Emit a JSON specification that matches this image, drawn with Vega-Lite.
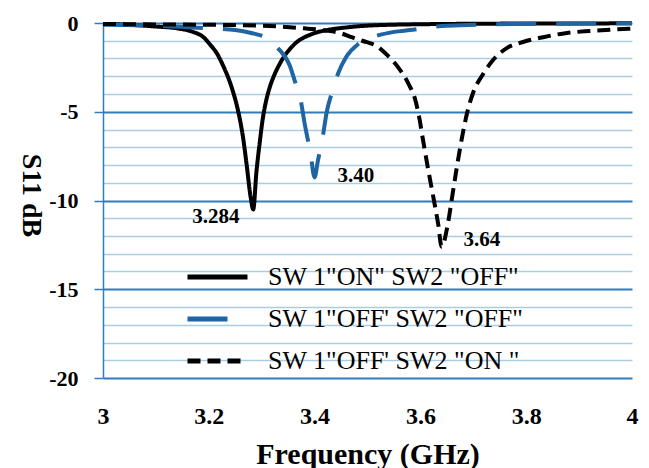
{
  "$schema": "https://vega.github.io/schema/vega-lite/v6.json",
  "width": 529,
  "height": 355,
  "autosize": {"type": "none"},
  "padding": {"left": 103, "top": 23, "right": 17, "bottom": 90},
  "background": "white",
  "config": {"view": {"stroke": null}, "font": "Liberation Serif"},
  "encoding": {
    "x": {
      "field": "f", "type": "quantitative",
      "scale": {"domain": [3, 4], "nice": false, "zero": false},
      "axis": {
        "values": [3, 3.2, 3.4, 3.6, 3.8, 4],
        "labelExpr": "'' + datum.value",
        "title": "Frequency (GHz)",
        "grid": false, "domain": false, "ticks": false,
        "labelFlush": false, "labelOverlap": false, "labelBound": false,
        "labelFont": "Liberation Serif", "labelFontSize": 24, "labelFontWeight": "bold", "labelColor": "black",
        "labelPadding": 26,
        "titleFont": "Liberation Serif", "titleFontSize": 30, "titleFontWeight": "bold", "titleColor": "black",
        "titleBaseline": "alphabetic", "titleY": 85
      }
    },
    "y": {
      "field": "db", "type": "quantitative",
      "scale": {"domain": [-20, 0], "nice": false, "zero": false},
      "axis": {
        "values": [-20, -19, -18, -17, -16, -15, -14, -13, -12, -11, -10, -9, -8, -7, -6, -5, -4, -3, -2, -1, 0],
        "labelExpr": "datum.value % 5 === 0 ? '' + datum.value : ''",
        "grid": true,
        "gridColor": {"condition": {"test": "datum.value % 5 === 0", "value": "#2f7dbd"}, "value": "#a9cde2"},
        "gridWidth": {"condition": {"test": "datum.value % 5 === 0", "value": 1.8}, "value": 1.3},
        "tickColor": {"condition": {"test": "datum.value % 5 === 0", "value": "#2f7dbd"}, "value": "transparent"},
        "tickSize": 9, "tickWidth": 1.5,
        "domainColor": "#2f7dbd", "domainWidth": 1.5,
        "labelOverlap": false, "labelBound": false, "labelFlush": false,
        "labelFont": "Liberation Serif", "labelFontSize": 22, "labelFontWeight": "bold", "labelColor": "black",
        "labelPadding": 16,
        "title": "S11 dB",
        "titleFont": "Liberation Serif", "titleFontSize": 28, "titleFontWeight": "bold", "titleColor": "black",
        "titleAngle": 90, "titleAlign": "center", "titleBaseline": "middle",
        "titleX": -73, "titleY": 172
      }
    }
  },
  "layer": [
    {
      "data": {
        "values": [
          {"s": "SW 1\"ON\" SW2 \"OFF\"", "f": 3.0, "db": -0.05},
          {"s": "SW 1\"ON\" SW2 \"OFF\"", "f": 3.05, "db": -0.1},
          {"s": "SW 1\"ON\" SW2 \"OFF\"", "f": 3.1, "db": -0.2},
          {"s": "SW 1\"ON\" SW2 \"OFF\"", "f": 3.14, "db": -0.3},
          {"s": "SW 1\"ON\" SW2 \"OFF\"", "f": 3.17, "db": -0.5},
          {"s": "SW 1\"ON\" SW2 \"OFF\"", "f": 3.19, "db": -0.8},
          {"s": "SW 1\"ON\" SW2 \"OFF\"", "f": 3.202, "db": -1.2},
          {"s": "SW 1\"ON\" SW2 \"OFF\"", "f": 3.215, "db": -1.7},
          {"s": "SW 1\"ON\" SW2 \"OFF\"", "f": 3.227, "db": -2.4},
          {"s": "SW 1\"ON\" SW2 \"OFF\"", "f": 3.244, "db": -3.7},
          {"s": "SW 1\"ON\" SW2 \"OFF\"", "f": 3.255, "db": -4.9},
          {"s": "SW 1\"ON\" SW2 \"OFF\"", "f": 3.265, "db": -6.5},
          {"s": "SW 1\"ON\" SW2 \"OFF\"", "f": 3.272, "db": -8.1},
          {"s": "SW 1\"ON\" SW2 \"OFF\"", "f": 3.279, "db": -9.8},
          {"s": "SW 1\"ON\" SW2 \"OFF\"", "f": 3.284, "db": -10.5},
          {"s": "SW 1\"ON\" SW2 \"OFF\"", "f": 3.29, "db": -8.4},
          {"s": "SW 1\"ON\" SW2 \"OFF\"", "f": 3.296, "db": -6.8},
          {"s": "SW 1\"ON\" SW2 \"OFF\"", "f": 3.302, "db": -5.4},
          {"s": "SW 1\"ON\" SW2 \"OFF\"", "f": 3.309, "db": -4.3},
          {"s": "SW 1\"ON\" SW2 \"OFF\"", "f": 3.316, "db": -3.55},
          {"s": "SW 1\"ON\" SW2 \"OFF\"", "f": 3.325, "db": -2.85},
          {"s": "SW 1\"ON\" SW2 \"OFF\"", "f": 3.335, "db": -2.25},
          {"s": "SW 1\"ON\" SW2 \"OFF\"", "f": 3.36, "db": -1.25},
          {"s": "SW 1\"ON\" SW2 \"OFF\"", "f": 3.397, "db": -0.6},
          {"s": "SW 1\"ON\" SW2 \"OFF\"", "f": 3.423, "db": -0.4},
          {"s": "SW 1\"ON\" SW2 \"OFF\"", "f": 3.46, "db": -0.25},
          {"s": "SW 1\"ON\" SW2 \"OFF\"", "f": 3.5, "db": -0.15},
          {"s": "SW 1\"ON\" SW2 \"OFF\"", "f": 3.6, "db": -0.07},
          {"s": "SW 1\"ON\" SW2 \"OFF\"", "f": 3.8, "db": -0.03},
          {"s": "SW 1\"ON\" SW2 \"OFF\"", "f": 4.0, "db": -0.02},

          {"s": "SW 1\"OFF' SW2 \"OFF\"", "f": 3.0, "db": -0.1},
          {"s": "SW 1\"OFF' SW2 \"OFF\"", "f": 3.1, "db": -0.15},
          {"s": "SW 1\"OFF' SW2 \"OFF\"", "f": 3.2, "db": -0.3},
          {"s": "SW 1\"OFF' SW2 \"OFF\"", "f": 3.25, "db": -0.4},
          {"s": "SW 1\"OFF' SW2 \"OFF\"", "f": 3.278, "db": -0.55},
          {"s": "SW 1\"OFF' SW2 \"OFF\"", "f": 3.31, "db": -0.85},
          {"s": "SW 1\"OFF' SW2 \"OFF\"", "f": 3.33, "db": -1.4},
          {"s": "SW 1\"OFF' SW2 \"OFF\"", "f": 3.353, "db": -2.4},
          {"s": "SW 1\"OFF' SW2 \"OFF\"", "f": 3.363, "db": -3.3},
          {"s": "SW 1\"OFF' SW2 \"OFF\"", "f": 3.372, "db": -4.1},
          {"s": "SW 1\"OFF' SW2 \"OFF\"", "f": 3.382, "db": -5.8},
          {"s": "SW 1\"OFF' SW2 \"OFF\"", "f": 3.392, "db": -7.3},
          {"s": "SW 1\"OFF' SW2 \"OFF\"", "f": 3.4, "db": -8.7},
          {"s": "SW 1\"OFF' SW2 \"OFF\"", "f": 3.406, "db": -7.8},
          {"s": "SW 1\"OFF' SW2 \"OFF\"", "f": 3.416, "db": -6.3},
          {"s": "SW 1\"OFF' SW2 \"OFF\"", "f": 3.423, "db": -5.0},
          {"s": "SW 1\"OFF' SW2 \"OFF\"", "f": 3.433, "db": -3.9},
          {"s": "SW 1\"OFF' SW2 \"OFF\"", "f": 3.445, "db": -2.8},
          {"s": "SW 1\"OFF' SW2 \"OFF\"", "f": 3.46, "db": -1.9},
          {"s": "SW 1\"OFF' SW2 \"OFF\"", "f": 3.482, "db": -1.2},
          {"s": "SW 1\"OFF' SW2 \"OFF\"", "f": 3.51, "db": -0.8},
          {"s": "SW 1\"OFF' SW2 \"OFF\"", "f": 3.55, "db": -0.5},
          {"s": "SW 1\"OFF' SW2 \"OFF\"", "f": 3.58, "db": -0.4},
          {"s": "SW 1\"OFF' SW2 \"OFF\"", "f": 3.65, "db": -0.15},
          {"s": "SW 1\"OFF' SW2 \"OFF\"", "f": 3.8, "db": -0.05},
          {"s": "SW 1\"OFF' SW2 \"OFF\"", "f": 4.0, "db": -0.02},

          {"s": "SW 1\"OFF' SW2 \"ON \"", "f": 3.0, "db": -0.05},
          {"s": "SW 1\"OFF' SW2 \"ON \"", "f": 3.1, "db": -0.08},
          {"s": "SW 1\"OFF' SW2 \"ON \"", "f": 3.2, "db": -0.1},
          {"s": "SW 1\"OFF' SW2 \"ON \"", "f": 3.3, "db": -0.15},
          {"s": "SW 1\"OFF' SW2 \"ON \"", "f": 3.38, "db": -0.3},
          {"s": "SW 1\"OFF' SW2 \"ON \"", "f": 3.42, "db": -0.42},
          {"s": "SW 1\"OFF' SW2 \"ON \"", "f": 3.45, "db": -0.58},
          {"s": "SW 1\"OFF' SW2 \"ON \"", "f": 3.47, "db": -0.8},
          {"s": "SW 1\"OFF' SW2 \"ON \"", "f": 3.49, "db": -1.0},
          {"s": "SW 1\"OFF' SW2 \"ON \"", "f": 3.52, "db": -1.35},
          {"s": "SW 1\"OFF' SW2 \"ON \"", "f": 3.537, "db": -1.8},
          {"s": "SW 1\"OFF' SW2 \"ON \"", "f": 3.558, "db": -2.5},
          {"s": "SW 1\"OFF' SW2 \"ON \"", "f": 3.577, "db": -3.4},
          {"s": "SW 1\"OFF' SW2 \"ON \"", "f": 3.59, "db": -4.3},
          {"s": "SW 1\"OFF' SW2 \"ON \"", "f": 3.597, "db": -5.2},
          {"s": "SW 1\"OFF' SW2 \"ON \"", "f": 3.605, "db": -6.6},
          {"s": "SW 1\"OFF' SW2 \"ON \"", "f": 3.615, "db": -8.3},
          {"s": "SW 1\"OFF' SW2 \"ON \"", "f": 3.625, "db": -9.9},
          {"s": "SW 1\"OFF' SW2 \"ON \"", "f": 3.634, "db": -11.4},
          {"s": "SW 1\"OFF' SW2 \"ON \"", "f": 3.64, "db": -12.6},
          {"s": "SW 1\"OFF' SW2 \"ON \"", "f": 3.652, "db": -11.3},
          {"s": "SW 1\"OFF' SW2 \"ON \"", "f": 3.66, "db": -9.8},
          {"s": "SW 1\"OFF' SW2 \"ON \"", "f": 3.669, "db": -8.1},
          {"s": "SW 1\"OFF' SW2 \"ON \"", "f": 3.679, "db": -6.4},
          {"s": "SW 1\"OFF' SW2 \"ON \"", "f": 3.688, "db": -5.1},
          {"s": "SW 1\"OFF' SW2 \"ON \"", "f": 3.7, "db": -3.9},
          {"s": "SW 1\"OFF' SW2 \"ON \"", "f": 3.718, "db": -2.9},
          {"s": "SW 1\"OFF' SW2 \"ON \"", "f": 3.737, "db": -2.1},
          {"s": "SW 1\"OFF' SW2 \"ON \"", "f": 3.764, "db": -1.4},
          {"s": "SW 1\"OFF' SW2 \"ON \"", "f": 3.794, "db": -1.07},
          {"s": "SW 1\"OFF' SW2 \"ON \"", "f": 3.832, "db": -0.8},
          {"s": "SW 1\"OFF' SW2 \"ON \"", "f": 3.877, "db": -0.56},
          {"s": "SW 1\"OFF' SW2 \"ON \"", "f": 3.92, "db": -0.45},
          {"s": "SW 1\"OFF' SW2 \"ON \"", "f": 3.983, "db": -0.34},
          {"s": "SW 1\"OFF' SW2 \"ON \"", "f": 4.0, "db": -0.32}
        ]
      },
      "mark": {"type": "line", "strokeWidth": 4, "interpolate": "monotone", "strokeCap": "butt"},
      "encoding": {
        "color": {
          "field": "s", "type": "nominal",
          "scale": {"domain": ["SW 1\"ON\" SW2 \"OFF\"", "SW 1\"OFF' SW2 \"OFF\"", "SW 1\"OFF' SW2 \"ON \""], "range": ["#000000", "#1f64a3", "#000000"]},
          "legend": {
            "orient": "none", "legendX": 82, "legendY": 242, "title": null, "padding": 0,
            "symbolType": "stroke", "symbolSize": 3600, "symbolStrokeWidth": 5,
            "labelFont": "Liberation Serif", "labelFontSize": 26, "labelColor": "black", "labelLimit": 400,
            "labelOffset": 18, "rowPadding": 16, "clipHeight": 24
          }
        },
        "strokeDash": {
          "field": "s", "type": "nominal",
          "scale": {"domain": ["SW 1\"ON\" SW2 \"OFF\"", "SW 1\"OFF' SW2 \"OFF\"", "SW 1\"OFF' SW2 \"ON \""], "range": [[1, 0], [40, 20], [13, 7]]},
          "legend": {
            "orient": "none", "legendX": 82, "legendY": 242, "title": null, "padding": 0,
            "symbolType": "stroke", "symbolSize": 3600, "symbolStrokeWidth": 5,
            "labelFont": "Liberation Serif", "labelFontSize": 26, "labelColor": "black", "labelLimit": 400,
            "labelOffset": 18, "rowPadding": 16, "clipHeight": 24
          }
        }
      }
    },
    {
      "data": {
        "values": [
          {"f": 3.2136, "db": -10.93, "t": "3.284"},
          {"f": 3.478, "db": -8.62, "t": "3.40"},
          {"f": 3.716, "db": -12.2, "t": "3.64"}
        ]
      },
      "mark": {"type": "text", "font": "Liberation Serif", "fontSize": 21, "fontWeight": "bold", "color": "black", "align": "center", "baseline": "middle"},
      "encoding": {
        "text": {"field": "t"}
      }
    }
  ]
}
